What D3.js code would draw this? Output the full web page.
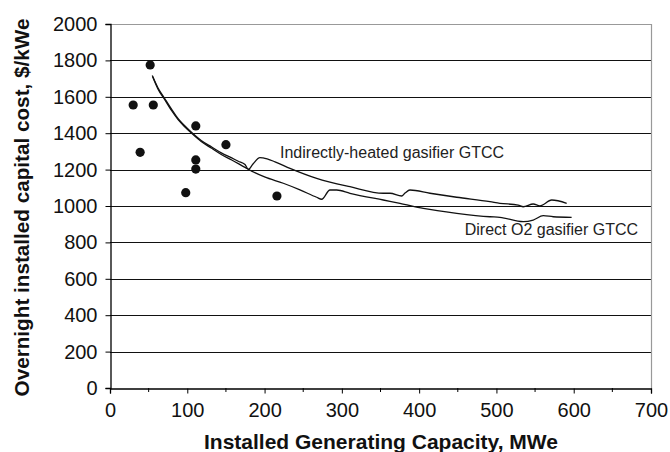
<!DOCTYPE html>
<html>
<head>
<meta charset="utf-8">
<script src="https://cdn.jsdelivr.net/npm/d3@7"></script>
<style>
  html, body { margin: 0; padding: 0; background: #fff; }
  svg { display: block; font-family: "Liberation Sans", Arial, Helvetica, sans-serif; }
</style>
</head>
<body>
<svg id="chart" width="670" height="452"></svg>
<script>
// ---- Data ----
const xTicks = [0, 100, 200, 300, 400, 500, 600, 700];
const yTicks = [0, 200, 400, 600, 800, 1000, 1200, 1400, 1600, 1800, 2000];

// Observed plants (scatter)
const plantCapacity = [52, 30, 56, 39, 111, 150, 111, 111, 98, 216];
const plantCost     = [1775, 1555, 1555, 1295, 1440, 1337, 1253, 1203, 1073, 1055];

// Indirectly-heated gasifier GTCC
const indirectX = [54.7, 62, 71.2, 80, 88.4, 97, 105.7, 118, 131.6, 144, 157.5, 166, 174.7, 179, 185, 194, 198, 213.5, 232.9, 267.4, 310.5, 353.6, 362.3, 377.4, 381.7, 388.1, 414, 448.6, 491.6, 504.5, 528.2, 534.7, 547.6, 556.3, 571.5, 590.9];
const indirectY = [1717, 1650, 1588, 1530, 1478, 1440, 1404, 1360, 1324, 1292, 1264, 1246, 1228, 1201, 1231, 1266, 1264, 1243, 1207, 1152, 1106, 1070, 1070, 1055, 1071, 1088, 1070, 1048, 1024, 1015, 1005, 996, 1011, 1001, 1033, 1015];

// Direct O2 gasifier GTCC
const directX = [55.2, 62, 71.2, 80, 88.4, 97, 105.7, 118, 131.6, 144, 157.5, 174.7, 183.3, 200, 224.2, 245, 267.4, 273.9, 284.6, 293.3, 310.5, 353.6, 375.2, 405.4, 448.6, 491.6, 504.5, 534.7, 547.6, 560.6, 573.5, 597.3];
const directY = [1710, 1643, 1582, 1522, 1473, 1434, 1399, 1354, 1317, 1283, 1253, 1212, 1192, 1160, 1125, 1090, 1048, 1037, 1088, 1088, 1070, 1033, 1015, 987, 960, 941, 938, 914, 923, 947, 941, 938];

const seriesLabels = ["Indirectly-heated gasifier GTCC", "Direct O2 gasifier GTCC"];
const xTitle = "Installed Generating Capacity, MWe";
const yTitle = "Overnight installed capital cost, $/kWe";

// ---- Chart ----
const svg = d3.select("#chart");
const L = 110, R = 651, T = 24, B = 388;
const x = d3.scaleLinear().domain([0, 700]).range([L, R]);
const y = d3.scaleLinear().domain([0, 2000]).range([B, T]);
const fmt = d3.format("d");

// gridlines
svg.append("g").selectAll("line").data(yTicks.filter(d => d > 0 && d < 2000)).join("line")
  .attr("x1", L).attr("x2", R)
  .attr("y1", d => Math.round(y(d)) + 0.5).attr("y2", d => Math.round(y(d)) + 0.5)
  .attr("stroke", "#111").attr("stroke-width", 1);

// top & right border (gray)
svg.append("path")
  .attr("d", `M${L},${T + 0.5}H${R + 0.5}V${B}`)
  .attr("fill", "none").attr("stroke", "#999").attr("stroke-width", 1.2);

// y axis
const yAxis = d3.axisLeft(y).tickValues(yTicks).tickFormat(fmt).tickSize(5).tickPadding(8);
const gy = svg.append("g").attr("transform", `translate(${L + 0.5},0)`).call(yAxis);
gy.select(".domain").attr("stroke", "#000").attr("stroke-width", 1.3);
gy.selectAll(".tick line").attr("stroke", "#000");
gy.selectAll(".tick text").attr("font-size", 20).attr("fill", "#111")
  .attr("font-family", "Liberation Sans, Arial, sans-serif");

// x axis
const xAxis = d3.axisBottom(x).tickValues(xTicks).tickFormat(fmt).tickSize(5).tickPadding(9);
const gx = svg.append("g").attr("transform", `translate(0,${B + 0.5})`).call(xAxis);
gx.select(".domain").attr("stroke", "#000").attr("stroke-width", 1.3);
gx.selectAll(".tick line").attr("stroke", "#000");
gx.selectAll(".tick text").attr("font-size", 20).attr("fill", "#111")
  .attr("font-family", "Liberation Sans, Arial, sans-serif");
// minor ticks
const minor = d3.range(50, 700, 100);
svg.append("g").selectAll("line").data(minor).join("line")
  .attr("x1", d => x(d)).attr("x2", d => x(d))
  .attr("y1", B).attr("y2", B + 4)
  .attr("stroke", "#000").attr("stroke-width", 1);

// curves
const line = d3.line().x(d => x(d[0])).y(d => y(d[1])).curve(d3.curveMonotoneX);
svg.append("path").datum(directX.map((v, i) => [v, directY[i]]))
  .attr("d", line).attr("fill", "none").attr("stroke", "#111").attr("stroke-width", 1.3);
svg.append("path").datum(indirectX.map((v, i) => [v, indirectY[i]]))
  .attr("d", line).attr("fill", "none").attr("stroke", "#111").attr("stroke-width", 1.3);

// scatter
svg.append("g").selectAll("circle").data(plantCapacity.map((v, i) => [v, plantCost[i]])).join("circle")
  .attr("cx", d => x(d[0])).attr("cy", d => y(d[1])).attr("r", 4.6).attr("fill", "#111");

// series labels
svg.append("text").attr("x", x(220)).attr("y", y(1264)).attr("font-size", 16).attr("fill", "#222")
  .text(seriesLabels[0]);
svg.append("text").attr("x", x(459)).attr("y", y(841)).attr("font-size", 16).attr("fill", "#222")
  .text(seriesLabels[1]);

// axis titles
svg.append("text").attr("x", (202 + 560) / 2).attr("y", 449).attr("text-anchor", "middle")
  .attr("font-size", 21).attr("font-weight", "bold").attr("fill", "#111").text(xTitle);
svg.append("text").attr("transform", `translate(29,${(15 + 400) / 2}) rotate(-90)`)
  .attr("text-anchor", "middle").attr("font-size", 20.7).attr("font-weight", "bold")
  .attr("fill", "#111").text(yTitle);
</script>
</body>
</html>
